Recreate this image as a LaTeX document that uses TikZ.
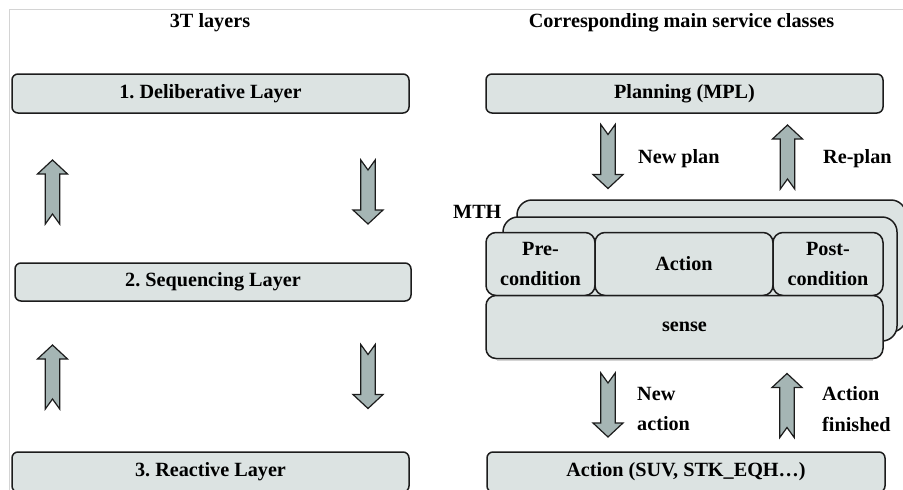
\documentclass[tikz,border=0pt]{standalone}
\usepackage{fontspec}
\setmainfont{Liberation Serif}
\frenchspacing

\definecolor{boxfill}{RGB}{220,227,226}
\definecolor{arrowfill}{RGB}{165,181,180}
\definecolor{framegray}{RGB}{212,212,212}
\definecolor{edge}{RGB}{28,28,28}

\tikzset{
  txt/.style={font=\bfseries\fontsize{20.2}{30.5}\selectfont},
  layerbox/.style={txt, draw=edge, line width=1.5pt, fill=boxfill,
    rounded corners=6pt, inner sep=0pt, align=center},
  cellbox/.style={layerbox, rounded corners=10pt},
  cardbox/.style={layerbox, rounded corners=15pt},
  heading/.style={txt, inner sep=0pt, anchor=base},
  note/.style={txt, inner sep=0pt, align=left},
  blockarrow/.style={draw=edge, line width=1.2pt, fill=arrowfill, line join=miter},
  pics/uparrow/.style={code={
    \draw[blockarrow] (0,-32) -- (15,-18) -- (7.2,-18) -- (7.2,32) -- (0,22)
      -- (-7.2,32) -- (-7.2,-18) -- (-15,-18) -- cycle;}},
  pics/downarrow/.style={code={
    \draw[blockarrow] (0,32) -- (15,18) -- (7.2,18) -- (7.2,-32) -- (0,-22)
      -- (-7.2,-32) -- (-7.2,18) -- (-15,18) -- cycle;}},
}

\begin{document}
\begin{tikzpicture}[x=1pt,y=-1pt]
  \useasboundingbox (0,0) rectangle (903,490);

  % outer frame lines
  \draw[framegray, line width=1pt] (9.5,490) -- (9.5,9.5) -- (903,9.5);

  % column headings
  \node[heading] (hleft)  at (210,27.5)   {3T layers};
  \node[heading] (hright) at (681.5,27.5) {Corresponding main service classes};

  % 3T layers
  \node[layerbox, minimum width=397pt, minimum height=39pt] (delib) at (210.5,93.5) {1. Deliberative Layer};
  \node[layerbox, minimum width=396pt, minimum height=38pt] (seq)   at (213,282)   {2. Sequencing Layer};
  \node[layerbox, minimum width=397pt, minimum height=40pt] (react) at (210.5,472) {3. Reactive Layer};

  \pic (upA)   at (52.5,192) {uparrow};
  \pic (downA) at (368,192)  {downarrow};
  \pic (upB)   at (52.5,377) {uparrow};
  \pic (downB) at (368,376.5) {downarrow};

  % service classes
  \node[layerbox, minimum width=397pt, minimum height=39pt] (plan) at (684.5,93.5) {Planning (MPL)};

  \pic (newplan) at (608,156.5) {downarrow};
  \pic (replan)  at (787.5,157) {uparrow};
  \node[note, anchor=base west] (lnewplan) at (638,163) {New plan};
  \node[note, anchor=base west] (lreplan)  at (823,163) {Re-plan};

  % MTH stack of cards
  \node[cardbox, minimum width=389pt, minimum height=132pt] (card3) at (711.5,266) {};
  \node[cardbox, minimum width=394pt, minimum height=124pt] (card2) at (700,279) {};
  \node[note, anchor=base west] (mth) at (453,218) {MTH};

  \node[cellbox, minimum width=109pt, minimum height=63pt] (pre)   at (540.5,264) {Pre-\\condition};
  \node[cellbox, minimum width=178pt, minimum height=63pt] (act)   at (684,264)   {Action};
  \node[cellbox, minimum width=110pt, minimum height=63pt] (post)  at (828,264)   {Post-\\condition};
  \node[cellbox, minimum width=397pt, minimum height=63pt] (sense) at (684.5,327) {sense};

  \draw[framegray, line width=0.8pt] (497,360.5) -- (873,360.5);

  \pic (newact) at (608,405)   {downarrow};
  \pic (actfin) at (787,405.5) {uparrow};
  \node[note, anchor=west] (lnewact) at (637,409) {New\\action};
  \node[note, anchor=west] (lactfin) at (822,409) {Action\\finished};

  \node[layerbox, minimum width=398pt, minimum height=40pt] (action) at (686,472) {Action (SUV, STK\_EQH\dots)};
\end{tikzpicture}
\end{document}
